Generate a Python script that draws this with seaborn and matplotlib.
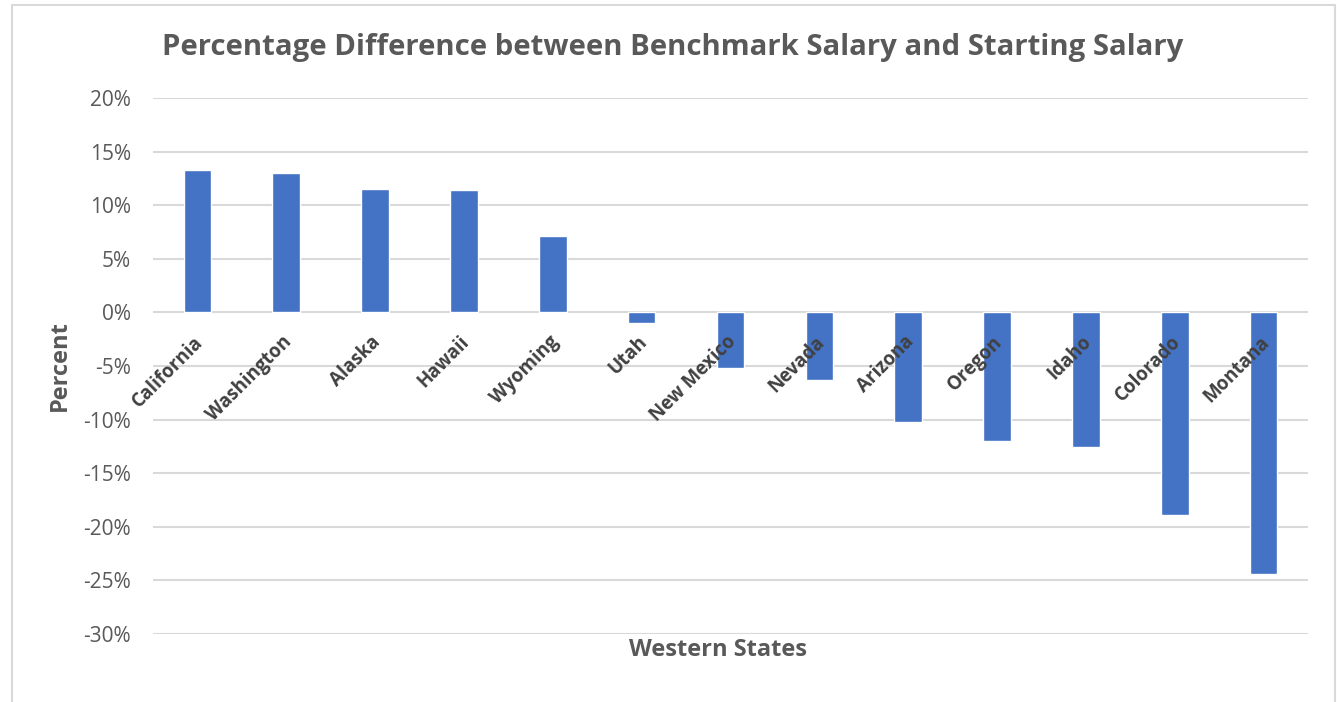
import matplotlib
matplotlib.use("Agg")
import matplotlib.pyplot as plt
import matplotlib.patches as patches
import seaborn as sns
import pandas as pd
from matplotlib.ticker import FuncFormatter

# dados
estados = ['California', 'Washington', 'Alaska', 'Hawaii', 'Wyoming', 'Utah',
           'New Mexico', 'Nevada', 'Arizona', 'Oregon', 'Idaho', 'Colorado', 'Montana']
diferenca = [13.3, 13.0, 11.5, 11.4, 7.1, -1.0, -5.2, -6.3, -10.2, -12.0, -12.6, -18.9, -24.4]
yticks = [20, 15, 10, 5, 0, -5, -10, -15, -20, -25, -30]

df = pd.DataFrame({'Estado': estados, 'Diferenca': diferenca})

sns.set_theme(style="white")
plt.rcParams['font.family'] = ['Open Sans', 'DejaVu Sans']

cinza = '#595959'
fig = plt.figure(figsize=(13.37, 7.02), dpi=100)
ax = fig.add_axes([153 / 1337, 1 - 634 / 702, (1308 - 153) / 1337, (634 - 98) / 702])

# borda da área do gráfico
fig.patches.append(patches.Rectangle((12 / 1337, -0.01), (1335 - 12) / 1337, 1 - 5 / 702 + 0.01,
                                     transform=fig.transFigure, fill=False,
                                     edgecolor='#D9D9D9', linewidth=1.5))

g = sns.barplot(data=df, x='Estado', y='Diferenca', color='#4472C4', width=0.31,
                saturation=1, ax=ax, zorder=3)

ax.set_ylim(-30, 20)
ax.set_yticks(yticks)
ax.yaxis.set_major_formatter(FuncFormatter(lambda v, p: f'{v:.0f}%'))
ax.set_xlim(-0.5, len(estados) - 0.5)
ax.grid(axis='y', color='#D9D9D9', linewidth=1.5, zorder=0)
for s in ax.spines.values():
    s.set_visible(False)
ax.tick_params(axis='y', colors=cinza, labelsize=15, length=0, pad=16)
ax.set_xticks([])

# rótulos das categorias junto ao eixo zero
for i, estado in enumerate(estados):
    ax.text(i + 0.03, -2.5, estado, rotation=45, rotation_mode='anchor',
            ha='right', va='center', fontsize=13.5, fontweight='bold', color='#404040', zorder=4)

ax.set_xlabel('Western States', fontsize=17, fontweight='bold', color=cinza)
ax.set_ylabel('Percent', fontsize=17, fontweight='bold', color=cinza)
ax.yaxis.set_label_coords(-(153 - 72) / 1155, 0.5)
ax.xaxis.set_label_coords((718 - 153) / 1155, -0.008)
ax.xaxis.label.set_va('top')

fig.text(673 / 1337, 1 - 47 / 702, 'Percentage Difference between Benchmark Salary and Starting Salary',
         ha='center', va='center', fontsize=21.2, fontweight='bold', color=cinza)

fig.savefig('out.png', dpi=100, facecolor='white')
